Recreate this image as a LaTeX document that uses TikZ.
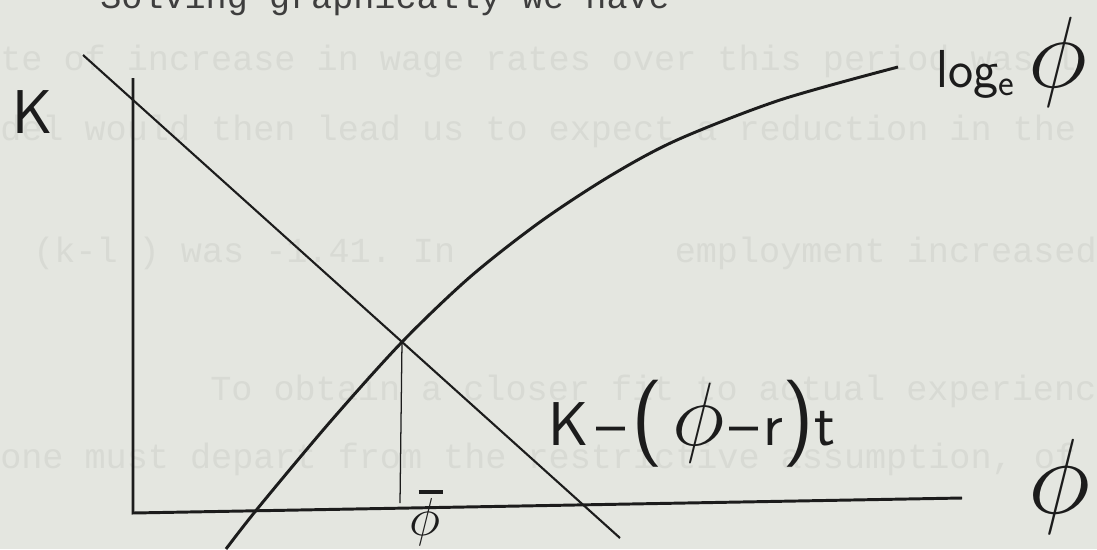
\documentclass[tikz,border=0pt]{standalone}
\usepackage{fix-cm}
\usepackage{fontspec}
\setmonofont{Liberation Mono}
\usetikzlibrary{positioning}
\definecolor{paper}{HTML}{E4E6E0}
\definecolor{ghost}{HTML}{D8DAD4}
\definecolor{ink}{HTML}{1C1C1C}
\newcommand{\bigph}[1]{{\fontsize{#1}{#1}\selectfont$\phi$}}

\begin{document}
\begin{tikzpicture}[
  x=0.025cm, y=-0.025cm,
  axis/.style={ink, line width=2.1pt},
  hand/.style={ink, inner sep=0pt, font=\fontsize{44}{44}\selectfont\sffamily},
  print/.style={anchor=base west, inner sep=0pt, font=\fontsize{25}{25}\selectfont\ttfamily},
  shadow/.style={print, text=ghost}
]
\fill[paper] (0,0) rectangle (1097,549);
\useasboundingbox (0,0) rectangle (1097,549);
% typed page text, and what shows through from the back
\node[shadow] (bg1) at (0,70) {te of increase in wage rates over this period was l};
\node[shadow] (bg2) at (0,140) {del would then lead us to expect a reduction in the l};
\node[shadow] (bg3) at (33,262) {(k-l ) was -1.41.  In};
\node[shadow, anchor=base east] (bg3b) at (1097,262) {employment increased};
\node[shadow] (bg4) at (210,400) {To obtain a closer fit to actual experience, Mr.};
\node[shadow] (bg5) at (0,468) {one must depart from the restrictive assumption, of};
\node[print, text=ink!85] (head) at (100,8) {Solving graphically we have};
% axes
\coordinate (o) at (133,513);
\coordinate (ytop) at (133,78);
\coordinate (xend) at (962,498);
\draw[axis] (ytop) -- (o) -- (xend);
% straight line and log curve
\coordinate (ls) at (83,55);
\coordinate (le) at (620,538);
\draw[ink, line width=1.5pt] (ls) -- (le);
\draw[ink, line width=2.1pt] plot[smooth] coordinates
  {(226,549) (258,508) (330,422) (402,342) (470,277) (540,222) (610,176) (677,140) (780,100) (898,67)};
\coordinate (cross) at (402,342);
\coordinate (foot) at (400,503);
\draw[ink, line width=0.9pt] (cross) -- (foot);
% labels
\node[hand] (klab) at (33,112) {K};
\node[hand, font=\fontsize{38}{38}\selectfont\sffamily, anchor=west] (loglab) at (936,62) {log\textsubscript{e}\hspace{10pt}\bigph{72}};
\node[hand, anchor=west] (linelab) at (548,424) {K\hspace{6pt}--\hspace{4pt}{\fontsize{62}{62}\selectfont(}\hspace{6pt}\bigph{64}\hspace{4pt}--\hspace{3pt}r{\fontsize{62}{62}\selectfont)}t};
\node[hand, align=center, font=\fontsize{38}{38}\selectfont] (barlab) at (425,518) {\hspace{8pt}\rule{17pt}{2.6pt}\\[-8pt]$\phi$};
\node[hand, anchor=west] (xlab) at (1028,487) {\bigph{76}};
\end{tikzpicture}
\end{document}
